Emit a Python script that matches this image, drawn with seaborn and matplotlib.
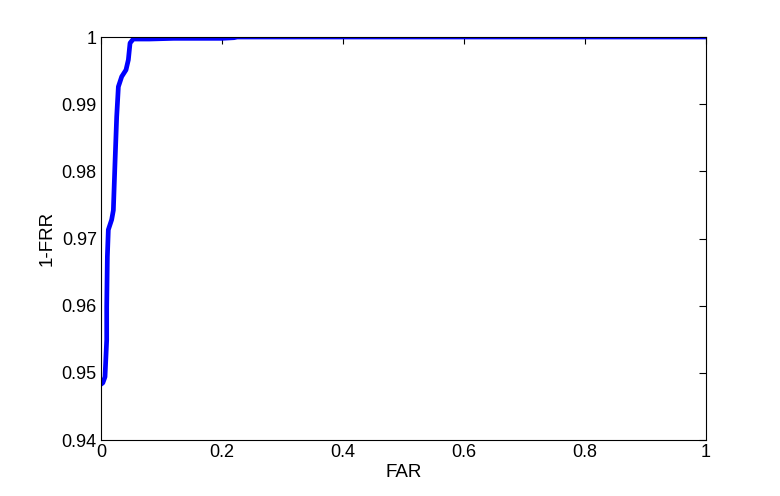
import matplotlib
matplotlib.use("Agg")
import matplotlib.pyplot as plt
import seaborn as sns
import pandas as pd

sns.set_style("white")
plt.rcParams['font.family'] = ['Liberation Sans', 'DejaVu Sans']

far = [0.0, 0.003, 0.0066, 0.0094, 0.0094, 0.0105, 0.0121, 0.0176, 0.0204, 0.0231,
       0.0259, 0.0287, 0.0342, 0.0413, 0.0452, 0.048, 0.0534, 0.08, 0.12, 0.16, 0.20, 0.22, 0.225, 0.5, 1.0]
gar = [0.9483, 0.9485, 0.9494, 0.9549, 0.9598, 0.9673, 0.9713, 0.9728, 0.9742, 0.9812,
       0.9881, 0.9926, 0.9941, 0.9951, 0.9966, 0.9991, 0.9997, 0.9997, 0.9998, 0.9998, 0.9998, 0.9999, 1.0, 1.0, 1.0]

df = pd.DataFrame({"FAR": far, "1-FRR": gar})

fig = plt.figure(figsize=(7.8, 4.96), dpi=100)
ax = fig.add_axes([0.1295, 0.1129, 0.7755, 0.8125])
sns.lineplot(data=df, x="FAR", y="1-FRR", ax=ax, color="#0000ff", linewidth=3.4,
             sort=False, estimator=None)
ax.set_xlim(0, 1)
ax.set_ylim(0.94, 1.0)
ax.set_xticks([0, 0.2, 0.4, 0.6, 0.8, 1])
ax.set_xticklabels(["0", "0.2", "0.4", "0.6", "0.8", "1"])
ax.set_yticks([0.94, 0.95, 0.96, 0.97, 0.98, 0.99, 1.0])
ax.set_yticklabels(["0.94", "0.95", "0.96", "0.97", "0.98", "0.99", "1"])
ax.tick_params(direction="in", length=5, width=0.8, top=True, right=True,
               labelsize=13, colors="black", pad=3)
for s in ax.spines.values():
    s.set_visible(True)
    s.set_color("black")
    s.set_linewidth(0.8)
ax.set_xlabel("FAR", fontsize=13.5, labelpad=2, color="black")
ax.set_ylabel("1-FRR", fontsize=13.5, labelpad=4, color="black")
fig.savefig("out.png", dpi=100)
